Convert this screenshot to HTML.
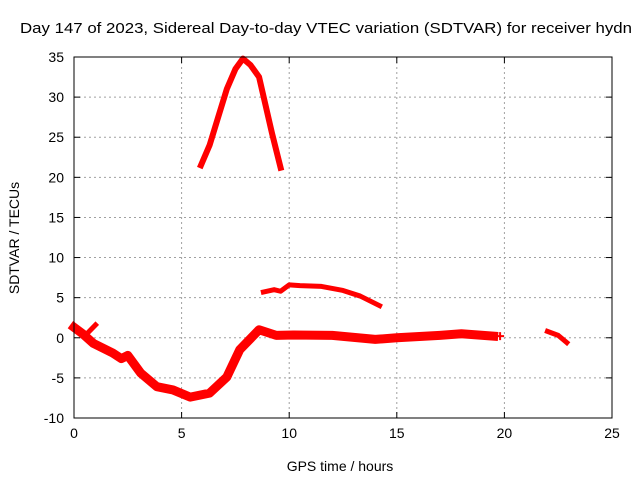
<!DOCTYPE html>
<html><head><meta charset="utf-8"><style>
body{margin:0;background:#fff}
svg text{font-family:"Liberation Sans",sans-serif;font-size:14px;fill:#000}
</style></head><body>
<svg id="c" width="640" height="480"></svg>
<script>
const xTicks=[0,5,10,15,20,25];
const yTicks=[-10,-5,0,5,10,15,20,25,30,35];
const peakX=[5.9,6.3,6.7,7.1,7.5,7.85,8.2,8.6,8.9,9.2,9.6];
const peakY=[21.5,24,27.5,31,33.5,34.8,34,32.5,29,25.5,21.2];
const midX=[8.8,9.3,9.6,10.0,10.5,11.5,12.5,13.3,14.2];
const midY=[5.7,6,5.8,6.6,6.5,6.4,5.9,5.2,4.0];
const lowX=[0,0.4,0.9,1.8,2.2,2.5,3.1,3.85,4.6,5.4,6.3,7.1,7.7,8.6,9.4,10.2,12,14,15,17,18,19.5];
const lowY=[1.3,0.5,-0.7,-1.9,-2.6,-2.2,-4.4,-6.1,-6.5,-7.4,-6.9,-4.9,-1.5,1,0.3,0.35,0.3,-0.2,0,0.3,0.5,0.2];
const branchX=[0.6,1.0];
const branchY=[0.5,1.6];
const tailX=[22,22.5,22.9];
const tailY=[0.8,0.3,-0.6];
const dotX=[19.8];
const dotY=[0.2];
const NS="http://www.w3.org/2000/svg";
const svg=document.getElementById('c');
const L=74,R=612,T=57,B=418;
const sx=v=>L+(v-0)/25*(R-L);
const sy=v=>B-(v+10)/45*(B-T);
function mk(tag,a,parent){const e=document.createElementNS(NS,tag);for(const k in a)e.setAttribute(k,a[k]);(parent||svg).appendChild(e);return e;}
const grid=mk('g',{});


xTicks.forEach(t=>{if(t>0&&t<25)mk('line',{x1:sx(t),x2:sx(t),y1:T,y2:B,stroke:'#a0a0a0','stroke-dasharray':'2,3'},grid);});
yTicks.forEach(t=>{if(t>-10&&t<35)mk('line',{x1:L,x2:R,y1:sy(t),y2:sy(t),stroke:'#a0a0a0','stroke-dasharray':'2,3'},grid);});
function series(xs,ys,w,name){
  const p=mk('polyline',{points:xs.map((x,i)=>sx(x)+','+sy(ys[i])).join(' '),fill:'none',stroke:'#f00','stroke-width':w,'stroke-linejoin':'round','stroke-linecap':'square'});
  
  
}
series(peakX,peakY,6,'series-peak');
series(midX,midY,5,'series-mid');
series(lowX,lowY,9,'series-low');
series(branchX,branchY,5,'series-branch');
series(tailX,tailY,5,'series-tail');
dotX.forEach((x,i)=>{const d=mk('path',{d:`M${sx(x)-4},${sy(dotY[i])}h8M${sx(x)},${sy(dotY[i])-4}v8`,stroke:'#f00','stroke-width':2});

});
const frame=mk('rect',{x:L,y:T,width:R-L,height:B-T,fill:'none',stroke:'#000','stroke-width':1});


xTicks.forEach(t=>{mk('line',{x1:sx(t),x2:sx(t),y1:B,y2:B-6,stroke:'#000'});mk('line',{x1:sx(t),x2:sx(t),y1:T,y2:T+6,stroke:'#000'});
const tx=mk('text',{x:sx(t),y:B+20,'text-anchor':'middle'});tx.textContent=t;

});
yTicks.forEach(t=>{mk('line',{x1:L,x2:L+6,y1:sy(t),y2:sy(t),stroke:'#000'});mk('line',{x1:R,x2:R-6,y1:sy(t),y2:sy(t),stroke:'#000'});
const tx=mk('text',{x:L-10,y:sy(t)+5,'text-anchor':'end'});tx.textContent=t;

});
</script>
<div style="position:absolute;left:0;top:0;width:640px;height:480px;pointer-events:none">
<svg width="640" height="480">
<text x="20" y="33" textLength="612" lengthAdjust="spacingAndGlyphs" style="font-family:'Liberation Sans',sans-serif;font-size:15px">Day 147 of 2023, Sidereal Day-to-day VTEC variation (SDTVAR) for receiver hydn</text>
<text x="340" y="471" text-anchor="middle" style="font-family:'Liberation Sans',sans-serif;font-size:14px">GPS time / hours</text>
<text transform="translate(19,238) rotate(-90)" text-anchor="middle" style="font-family:'Liberation Sans',sans-serif;font-size:14px">SDTVAR / TECUs</text>
</svg></div>
</body></html>
